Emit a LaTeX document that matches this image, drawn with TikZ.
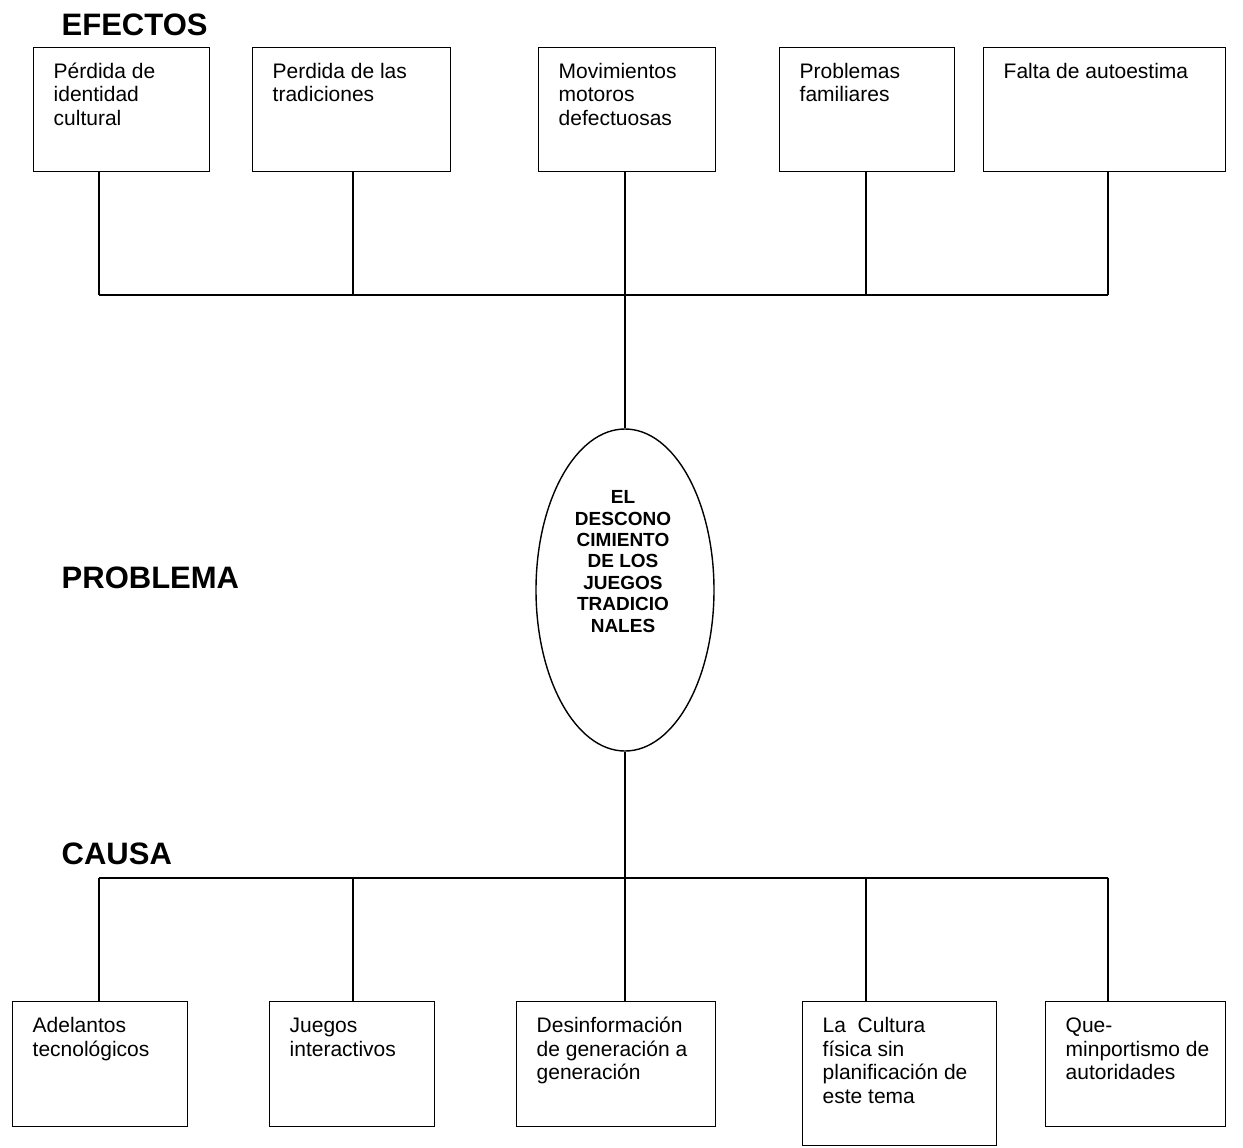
\documentclass[tikz,border=0pt]{standalone}
\usepackage{fontspec}
\setmainfont{Liberation Sans}
\usetikzlibrary{shapes.geometric}

\tikzset{
  caja/.style={draw, anchor=north west, inner xsep=10pt, inner ysep=7pt,
               font=\fontsize{10.5}{11.85}\selectfont},
  titulo/.style={anchor=base west, inner sep=0pt,
                 font=\fontsize{15.5}{18}\selectfont\bfseries},
}

\begin{document}
\begin{tikzpicture}[x=0.5pt, y=-0.5pt, line width=0.7pt]
\useasboundingbox (0,0) rectangle (1243,1147);

% titulos
\node[titulo] (efectos)  at (61,35)  {EFECTOS};
\node[titulo] (problema) at (61,588) {PROBLEMA};
\node[titulo] (causa)    at (61,864) {CAUSA};

% efectos
\node[caja] (e1) at (33,47)  {\parbox[t][48pt][t]{68pt}{\strut P\'erdida de\\identidad\\cultural}};
\node[caja] (e2) at (252,47) {\parbox[t][48pt][t]{79pt}{\strut Perdida de las\\tradiciones}};
\node[caja] (e3) at (538,47) {\parbox[t][48pt][t]{68.5pt}{\strut Movimientos\\motoros\\defectuosas}};
\node[caja] (e4) at (779,47) {\parbox[t][48pt][t]{67.5pt}{\strut Problemas\\familiares}};
\node[caja] (e5) at (983,47) {\parbox[t][48pt][t]{101pt}{\strut Falta de autoestima}};

% problema
\node[ellipse, draw, minimum width=89pt, minimum height=161pt, inner sep=0pt] (prob) at (625,590) {};
\node[font=\fontsize{9.5}{10.7}\selectfont\bfseries, align=center, inner sep=0pt, anchor=north]
  (probtxt) at (623,490) {EL\\DESCONO\\CIMIENTO\\DE LOS\\JUEGOS\\TRADICIO\\NALES};

% causas
\node[caja] (c1) at (12,1001)   {\parbox[t][48.5pt][t]{67.5pt}{\strut Adelantos\\tecnol\'ogicos}};
\node[caja] (c2) at (269,1001)  {\parbox[t][48.5pt][t]{62.5pt}{\strut Juegos\\interactivos}};
\node[caja] (c3) at (516,1001)  {\parbox[t][48.5pt][t]{79.5pt}{\strut Desinformaci\'on\\de generaci\'on a\\generaci\'on}};
\node[caja] (c4) at (802,1001)  {\parbox[t][58pt][t]{77pt}{\strut La\ \ Cultura\\f\'isica sin\\planificaci\'on de\\este tema}};
\node[caja] (c5) at (1045,1001) {\parbox[t][48.5pt][t]{70pt}{\strut Que-\\\mbox{minportismo de}\\autoridades}};

% ramas de arriba
\coordinate (r1) at (99,295);
\coordinate (r2) at (353,295);
\coordinate (r4) at (866,295);
\coordinate (r5) at (1108,295);
\draw (r1) -- (r5);
\draw (e1.south -| r1) -- (r1);
\draw (e2.south -| r2) -- (r2);
\draw (e4.south -| r4) -- (r4);
\draw (e5.south -| r5) -- (r5);
\draw (e3.south -| prob.north) -- (prob.north);

% ramas de abajo
\coordinate (s1) at (99,878);
\coordinate (s2) at (353,878);
\coordinate (s4) at (866,878);
\coordinate (s5) at (1108,878);
\draw (s1) -- (s5);
\draw (prob.south) -- (prob.south |- c3.north);
\draw (s1) -- (s1 |- c1.north);
\draw (s2) -- (s2 |- c2.north);
\draw (s4) -- (s4 |- c4.north);
\draw (s5) -- (s5 |- c5.north);
\end{tikzpicture}
\end{document}
